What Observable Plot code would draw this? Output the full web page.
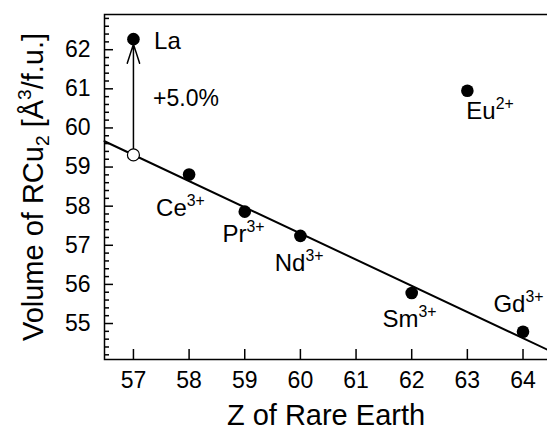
<!DOCTYPE html>
<html><head><meta charset="utf-8">
<script src="https://cdn.jsdelivr.net/npm/d3@7"></script>
<script src="https://cdn.jsdelivr.net/npm/@observablehq/plot@0.6"></script>
<style>body{margin:0;background:#fff}</style>
</head><body><div id="chart"></div>
<script>
// ---- data ----
const elements = ["La", "Ce", "Pr", "Nd", "Sm", "Eu", "Gd"];
const ionLabels = ["La", "Ce^{3+}", "Pr^{3+}", "Nd^{3+}", "Sm^{3+}", "Eu^{2+}", "Gd^{3+}"];
const zValues = [57, 58, 59, 60, 62, 63, 64];
const volumes = [62.27, 58.81, 57.86, 57.24, 55.78, 60.95, 54.79];
const interpZ = [57];
const interpVolume = [59.31];
const fitZ = [56.48, 64.44];
const fitVolume = [59.66, 54.33];
const changeText = "+5.0%";
const xTicks = [57, 58, 59, 60, 61, 62, 63, 64];
const yTicks = [55, 56, 57, 58, 59, 60, 61, 62];
const yMinorTicks = d3.range(271, 315).filter(i => i % 5 !== 0).map(i => i / 5);
const xLabel = "Z of Rare Earth";
const yLabel = "Volume of RCu_{2} [Å^{3}/f.u.]";

// ---- tables ----
const measured = elements.map((e, i) => ({el: e, label: ionLabels[i], z: zValues[i], v: volumes[i]}));
const interp = interpZ.map((z, i) => ({z, v: interpVolume[i]}));
const fit = fitZ.map((z, i) => ({z, v: fitVolume[i]}));
const arrowData = [{z: interpZ[0], v1: interpVolume[0], v2: volumes[0], label: changeText}];

// label nudges (pixels): [dx, dy]
const nudge = {La: [20.6, 1.7], Ce: [-33, 33.6], Pr: [-22.3, 23], Nd: [-25.7, 27.3], Sm: [-29.3, 26.7], Eu: [-1, 20.3], Gd: [-29.6, -27]};

const font = "'Liberation Sans', Arial, Helvetica, sans-serif";

const chart = Plot.plot({
  width: 547, height: 428,
  marginLeft: 104, marginRight: 0, marginTop: 14, marginBottom: 69,
  style: {fontFamily: font, fontSize: "23px", background: "white", color: "black"},
  x: {domain: [56.48, 64.44], label: null},
  y: {domain: [54.08, 62.9], label: null},
  marks: [
    Plot.frame({stroke: "black", strokeWidth: 1.5, insetRight: -3}),
    Plot.axisX(xTicks, {tickSize: -10, tickPadding: 22, strokeWidth: 1.5, label: null, fontSize: 23}),
    Plot.axisY(yTicks, {tickSize: -9, tickPadding: 23, strokeWidth: 1.5, label: null, fontSize: 23}),
    Plot.axisY(yMinorTicks, {tickSize: -5, tickFormat: () => "", strokeWidth: 1.5, label: null}),
    Plot.line(fit, {x: "z", y: "v", stroke: "black", strokeWidth: 2}),
    Plot.arrow(arrowData, {x1: "z", y1: "v1", x2: "z", y2: "v2", stroke: "black", strokeWidth: 1.5, headAngle: 36, headLength: 20, insetStart: 6, insetEnd: 5}),
    Plot.text(arrowData, {x: "z", y: d => (d.v1 + d.v2) / 2, text: "label", textAnchor: "start", dx: 19.6, dy: 2, fontSize: 23}),
    Plot.dot(interp, {x: "z", y: "v", r: 6, fill: "white", stroke: "black", strokeWidth: 1.2}),
    Plot.dot(measured, {x: "z", y: "v", r: 6.3, fill: "black"}),
    ...measured.map(d => Plot.text([d], {x: "z", y: "v", text: "label", textAnchor: "start", dx: nudge[d.el][0], dy: nudge[d.el][1], fontSize: 24})),
    Plot.text([xLabel], {frameAnchor: "bottom", text: d => d, textAnchor: "middle", lineAnchor: "middle", dy: 56.7, fontSize: 29}),
    Plot.text([yLabel], {frameAnchor: "left", text: d => d, rotate: -90, textAnchor: "middle", lineAnchor: "middle", dx: -70.6, fontSize: 29})
  ]
});
document.getElementById("chart").append(chart);

// rich text: ^{sup} and _{sub}
const NS = "http://www.w3.org/2000/svg";
chart.querySelectorAll("text").forEach(textEl => {
  const s = textEl.textContent;
  if (!/[\^_]\{/.test(s)) return;
  const fs = parseFloat(getComputedStyle(textEl).fontSize);
  const parts = s.split(/([\^_]\{[^}]*\})/).filter(p => p !== "");
  textEl.textContent = "";
  let shift = 0;
  for (const p of parts) {
    const t = document.createElementNS(NS, "tspan");
    let target = 0, size = null, content = p;
    if (p.startsWith("^{")) { content = p.slice(2, -1); target = -0.42 * fs; size = 0.66 * fs; }
    else if (p.startsWith("_{")) { content = p.slice(2, -1); target = 0.2 * fs; size = 0.66 * fs; }
    t.textContent = content;
    if (size) t.setAttribute("font-size", size);
    if (target !== shift) { t.setAttribute("dy", target - shift); shift = target; }
    textEl.appendChild(t);
  }
});
</script>
</body></html>
